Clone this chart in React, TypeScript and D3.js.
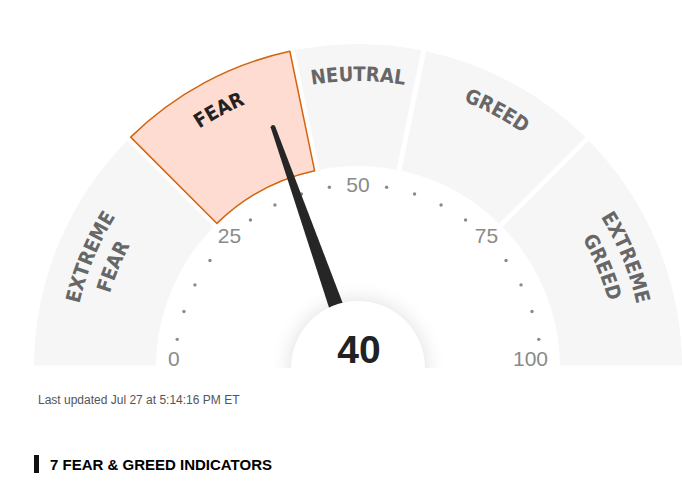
import React from "react";
import * as d3 from "d3";

// gauge data
const segmentStart = [0, 25, 43.5, 56.5, 75];
const segmentEnd = [25, 43.5, 56.5, 75, 100];
const segmentLabels = [["EXTREME", "FEAR"], ["FEAR"], ["NEUTRAL"], ["GREED"], ["EXTREME", "GREED"]];
const activeSegment = 1;
const score = 40; // shown, rounded
const needleValue = 39.2; // where the needle points
const tickValues = [0, 25, 50, 75, 100];
const dotValues = [5, 10, 15, 20, 30, 35, 40, 45, 55, 60, 65, 70, 80, 85, 90, 95];
const updatedText = "Last updated Jul 27 at 5:14:16 PM ET";
const sectionTitle = "7 FEAR & GREED INDICATORS";

const W = 682;
const H = 485;
const cx = 358;
const cy = 368;
const outerR = 324;
const innerR = 202;
const labelFont = "'DejaVu Sans Condensed', 'DejaVu Sans', sans-serif";
const sans = "'Liberation Sans', Arial, sans-serif";

export default function App() {
  // value -> d3 angle (0 at 12 o'clock, clockwise)
  const angle = d3.scaleLinear().domain([0, 100]).range([-Math.PI / 2, Math.PI / 2]);

  const arc = d3
    .arc<any>()
    .innerRadius(innerR)
    .outerRadius(outerR)
    .padRadius(100)
    .padAngle(0.05);

  const segments = segmentStart.map((s, i) => ({
    startAngle: angle(s),
    endAngle: angle(segmentEnd[i]),
    mid: angle((s + segmentEnd[i]) / 2),
    lines: segmentLabels[i],
    active: i === activeSegment
  }));

  // baseline radii for text on the arc
  const singleR = 287;
  const twoLineR = [286, 259];
  const pathRadii = [singleR, ...twoLineR];
  const arcPath = (r: number) => `M${-r},0 A${r},${r} 0 0 1 ${r},0`;

  const needleA = (angle(needleValue) * 180) / Math.PI;
  const needlePath = "M-7.5,-55 L7.5,-55 L2.3,-256 Q0,-259 -2.3,-256 Z";

  return (
    <div style={{ position: "absolute", left: 0, top: 0 }}>
      <svg width={W} height={H} style={{ display: "block" }}>
        <defs>
          {pathRadii.map((r) => (
            <path key={r} id={`lp${r}`} d={arcPath(r)} />
          ))}
          <filter id="soft" x="-50%" y="-50%" width="200%" height="200%">
            <feGaussianBlur stdDeviation="10" />
          </filter>
          <clipPath id="gclip">
            <rect x={-W} y={-H} width={2 * W} height={H} />
          </clipPath>
        </defs>
        <rect width={W} height={H} fill="#fff" />
        <g transform={`translate(${cx},${cy})`}>
          <g clipPath="url(#gclip)">
            {segments.map((d, i) => (
              <path
                key={i}
                d={arc(d) as string}
                fill={d.active ? "#fedcd1" : "#f6f6f6"}
                stroke={d.active ? "#d2650f" : "none"}
                strokeWidth={d.active ? 1.5 : 0}
                strokeLinejoin="round"
              />
            ))}
          </g>

          {segments.map((d, i) => {
            const radii = d.lines.length === 1 ? [singleR] : twoLineR;
            return d.lines.map((line, j) => (
              <text
                key={`${i}-${j}`}
                fontFamily={labelFont}
                fontStretch="condensed"
                fontWeight="bold"
                fontSize={20}
                fill={d.active ? "#222" : "#676767"}
                textAnchor="middle"
              >
                <textPath href={`#lp${radii[j]}`} startOffset={radii[j] * (d.mid + Math.PI / 2)}>
                  {line}
                </textPath>
              </text>
            ));
          })}

          {dotValues.map((v) => {
            const [x, y] = d3.pointRadial(angle(v), 183);
            return <circle key={v} cx={x} cy={y} r={1.7} fill="#8a8a8a" />;
          })}

          {tickValues.map((v) => {
            const a = angle(v);
            const [x, y] = d3.pointRadial(a, 190);
            const t = v / 100;
            const w = String(v).length * 0.556 * 21;
            const s = Math.cos(a);
            return (
              <text
                key={v}
                x={x + (0.5 - t) * w}
                y={y - 10 + 16.5 * s}
                dominantBaseline="central"
                textAnchor="middle"
                fontFamily={sans}
                fontSize={21}
                fill="#8a8a8a"
              >
                {v}
              </text>
            );
          })}

          <g clipPath="url(#gclip)">
            <circle r={68} fill="#000" opacity={0.12} filter="url(#soft)" />
            <path d={needlePath} transform={`rotate(${needleA})`} fill="#262626" />
            <circle r={67} fill="#fff" />
          </g>
          <text
            x={1}
            y={-5}
            textAnchor="middle"
            fontFamily={sans}
            fontWeight="bold"
            fontSize={39}
            fill="#222"
          >
            {score}
          </text>
        </g>

        <text x={38} y={403.5} fontFamily={sans} fontSize={12} fill="#555">
          {updatedText}
        </text>
        <rect x={34} y={455} width={5} height={18} fill="#111" />
        <text x={50} y={469.5} fontFamily={sans} fontWeight="bold" fontSize={15} fill="#000">
          {sectionTitle}
        </text>
      </svg>
    </div>
  );
}
